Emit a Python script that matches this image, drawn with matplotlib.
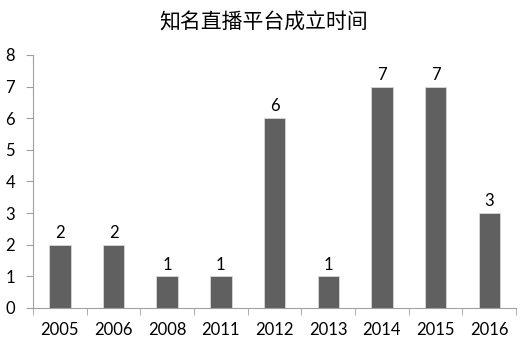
import matplotlib
matplotlib.use("Agg")
import matplotlib.pyplot as plt
import numpy as np

years = ["2005", "2006", "2008", "2011", "2012", "2013", "2014", "2015", "2016"]
counts = [2, 2, 1, 1, 6, 1, 7, 7, 3]

plt.rcParams["font.family"] = ["Lato", "Noto Sans CJK SC", "DejaVu Sans"]

fig = plt.figure(figsize=(5.28, 3.48), dpi=100)
ax = fig.add_axes([0.0625, 0.115, 0.915, 0.727])

x = np.arange(len(years))
ax.bar(x, counts, width=0.4, color="#606060", edgecolor="#d8d8d8", linewidth=0.6)
for xi, c in zip(x, counts):
    ax.text(xi, c + 0.12, str(c), ha="center", va="bottom", fontsize=12)

ax.set_xlim(-0.5, len(years) - 0.5)
ax.set_ylim(0, 8)
ax.set_yticks(range(9))
ax.set_xticks(x)
ax.set_xticklabels(years)
ax.set_xticks(np.arange(-0.5, len(years)), minor=True)
ax.tick_params(axis="x", which="major", length=0, pad=10, labelsize=12)
ax.tick_params(axis="x", which="minor", length=5, color="#a0a0a0", direction="out")
ax.tick_params(axis="y", length=5, color="#a0a0a0", labelsize=12, pad=8)
for s in ["top", "right"]:
    ax.spines[s].set_visible(False)
for s in ["left", "bottom"]:
    ax.spines[s].set_color("#a0a0a0")

fig.text(0.5, 0.935, "知名直播平台成立时间", ha="center", va="center",
         fontsize=15, family=["Noto Sans CJK SC", "DejaVu Sans"])

fig.savefig("out.png", dpi=100)
